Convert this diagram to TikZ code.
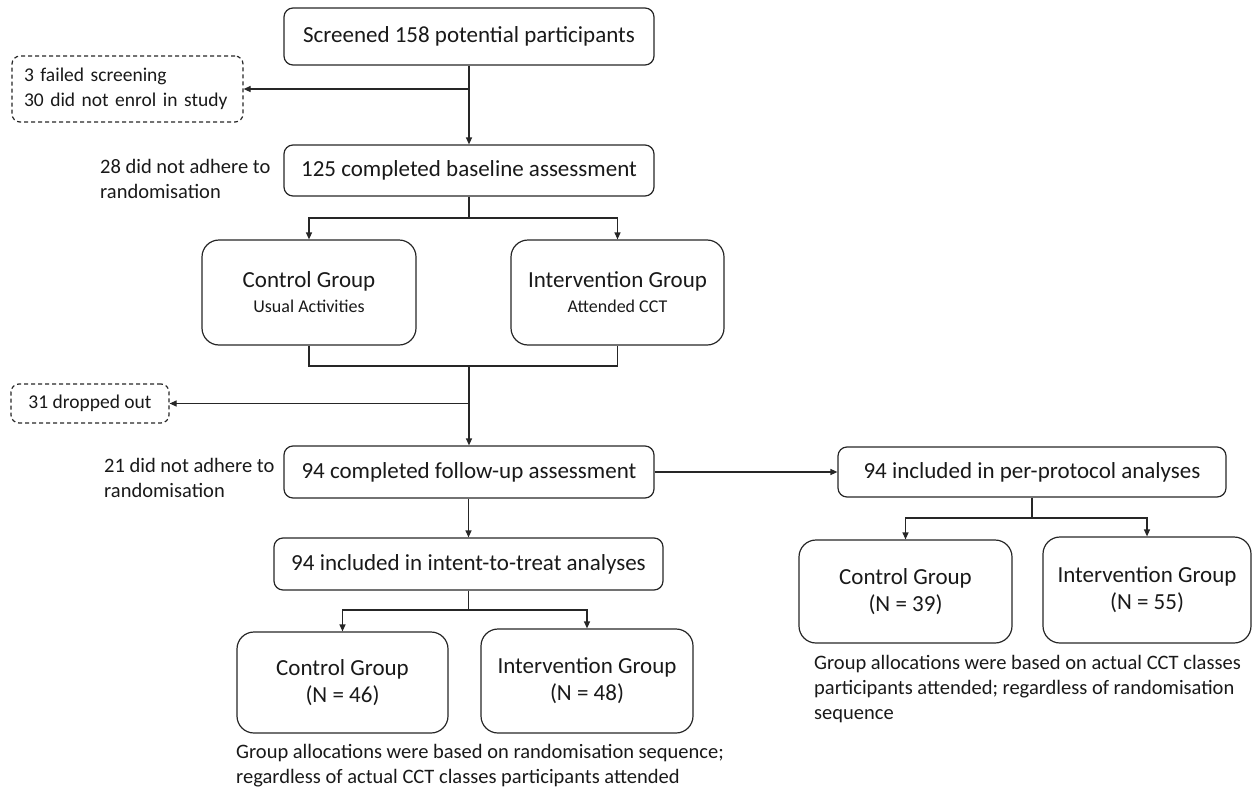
\documentclass[tikz,border=0pt]{standalone}
\usepackage{fontspec}
\setmainfont{Carlito}
\usetikzlibrary{arrows.meta}
\newcommand{\bigtxt}{\fontsize{23}{27}\selectfont}
\newcommand{\midtxt}{\fontsize{20.5}{25}\selectfont}
\newcommand{\dtxt}{\fontsize{19.5}{25}\selectfont}
\newcommand{\subtxt}{\fontsize{18}{21}\selectfont}
\begin{document}
\begin{tikzpicture}[x=1pt,y=-1pt,
  ln/.style={line width=1.2pt, draw=black!85},
  arr/.style={ln, -{Triangle[length=7pt,width=6pt]}},
  box/.style={ln, rounded corners=9pt, align=center, inner sep=0pt, font=\bigtxt, text=black!90},
  gbox/.style={box, rounded corners=17pt},
  dbox/.style={ln, dashed, dash pattern=on 4pt off 3pt, rounded corners=8pt, inner sep=0pt, font=\dtxt, text=black!90},
  note/.style={inner sep=0pt, align=left, font=\midtxt, text=black!90, anchor=west}]
\useasboundingbox (0,0) rectangle (1253,787);

% main column
\node[box, minimum width=370pt, minimum height=57pt] (scr) at (469,36.5) {Screened 158 potential participants};
\node[dbox, minimum width=231pt, minimum height=66pt, text width=207pt, align=left] (fail) at (127.5,89) {\hbox{3 failed screening}\\\hbox{30 did not enrol in study}};
\node[box, minimum width=370pt, minimum height=51pt] (base) at (469,170.5) {125 completed baseline assessment};
\node[note] (adh1) at (100,179) {28 did not adhere to\\randomisation};

\node[gbox, minimum width=214pt, minimum height=105pt] (ctl1) at (309,292.5) {Control Group\\[-2pt]{\subtxt Usual Activities}};
\node[gbox, minimum width=213pt, minimum height=105pt] (int1) at (617.5,292.5) {Intervention Group\\[-2pt]{\subtxt Attended CCT}};

\node[dbox, minimum width=158pt, minimum height=39pt] (drop) at (90,403.5) {31 dropped out};
\node[box, minimum width=370pt, minimum height=52pt] (fu) at (469,472) {94 completed follow-up assessment};
\node[note] (adh2) at (104,478) {21 did not adhere to\\randomisation};

% intent-to-treat
\node[box, minimum width=389pt, minimum height=52pt] (itt) at (468.5,564) {94 included in intent-to-treat analyses};
\node[gbox, minimum width=211pt, minimum height=101pt] (ctl2) at (342.5,682.5) {Control Group\\(N = 46)};
\node[gbox, minimum width=212pt, minimum height=104pt] (int2) at (587,681) {Intervention Group\\(N = 48)};
\node[note] (note1) at (236,766) {Group allocations were based on randomisation sequence;\\regardless of actual CCT classes participants attended};

% per-protocol
\node[box, minimum width=388pt, minimum height=50pt] (pp) at (1032,472) {94 included in per-protocol analyses};
\node[gbox, minimum width=213pt, minimum height=103pt] (ctl3) at (905.5,591.5) {Control Group\\(N = 39)};
\node[gbox, minimum width=208pt, minimum height=106pt] (int3) at (1147,590) {Intervention Group\\(N = 55)};
\node[note] (note2) at (814,689) {Group allocations were based on actual CCT classes\\participants attended; regardless of randomisation\\sequence};

% connectors
\draw[arr] (scr.south) -- (base.north);
\draw[arr] (scr.south |- fail.east) -- (fail.east);

\coordinate (b1) at (469,218);
\draw[ln] (base.south) -- (b1);
\draw[arr] (b1) -| (ctl1.north);
\draw[arr] (b1) -| (int1.north);

\coordinate (m1) at (469,366);
\draw[ln] (ctl1.south) |- (m1) -| (int1.south);
\draw[arr] (m1) -- (fu.north);
\draw[arr] (m1 |- drop.east) -- (drop.east);

\draw[arr] (fu.east) -- (pp.west);
\draw[arr] (fu.south -| itt.north) -- (itt.north);

\coordinate (b2) at (468.5,610);
\draw[ln] (itt.south) -- (b2);
\draw[arr] (b2) -| (ctl2.north);
\draw[arr] (b2) -| (int2.north);

\coordinate (b3) at (1032,518);
\draw[ln] (pp.south) -- (b3);
\draw[arr] (b3) -| (ctl3.north);
\draw[arr] (b3) -| (int3.north);
\end{tikzpicture}
\end{document}
